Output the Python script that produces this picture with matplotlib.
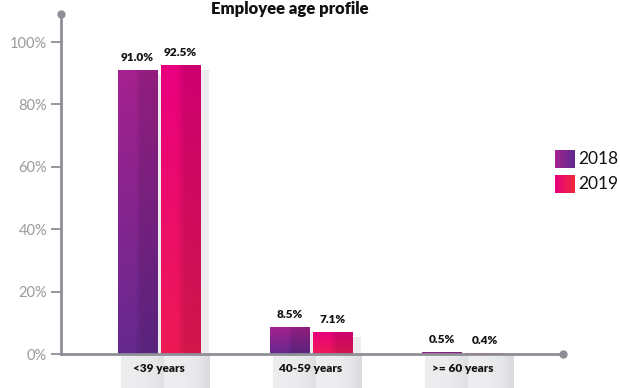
import numpy as np
import matplotlib.pyplot as plt
from matplotlib.colors import to_rgb
from matplotlib.patches import Polygon, Rectangle

plt.rcParams['font.family'] = ['Lato', 'DejaVu Sans']

# data
categories = ['<39 years', '40-59 years', '>= 60 years']
years = ['2018', '2019']
values_2018 = [91.0, 8.5, 0.5]
values_2019 = [92.5, 7.1, 0.4]
labels_2018 = ['91.0%', '8.5%', '0.5%']
labels_2019 = ['92.5%', '7.1%', '0.4%']
yticks = [0, 20, 40, 60, 80, 100]

# gradient colours: (top, bottom)
grad_2018 = ('#a5218f', '#65298e')
grad_2019 = ('#e9007f', '#ee1a55')
legend_2018 = ('#a3238f', '#5f2b8f')
legend_2019 = ('#e6007e', '#ee2a3a')

fig = plt.figure(figsize=(6.2, 3.88), dpi=100)
ax = fig.add_axes([61 / 620, 34 / 388, 502 / 620, 340 / 388])

ymax = 109
ax.set_ylim(0, ymax)
ax.set_xlim(-98 / 152, 404 / 152)

width = 40 / 152
off = 21.5 / 152
px_y = ymax / 340  # data units per pixel in y
px_x = 1 / 152


def gradient_img(top, bottom, n=64):
    t = np.array(to_rgb(top))
    b = np.array(to_rgb(bottom))
    v = np.linspace(0, 1, n)[:, None, None]
    col = t * (1 - v) + b * v
    h = np.linspace(0, 1, n)
    shade = 1 - 0.12 / (1 + np.exp(-(h - 0.5) * 30))
    return col * shade[None, :, None]


def shadow_img(n=32):
    # light gray, a bit darker towards the right edge
    h = np.linspace(0, 1, n)
    g = 0.93 - 0.07 * h ** 3
    return np.repeat(np.stack([g, g, g + 0.01], axis=-1)[None, :, :], 4, axis=0)


x = np.arange(len(categories))
for vals, labs, grad, sign in [(values_2018, labels_2018, grad_2018, -1),
                               (values_2019, labels_2019, grad_2019, 1)]:
    bars = ax.bar(x + sign * off, vals, width, color='none', edgecolor='none', zorder=3)
    for b, v, lab in zip(bars, vals, labs):
        x0 = b.get_x()
        x1 = x0 + b.get_width()
        im = ax.imshow(gradient_img(*grad), extent=[x0, x1, 0, v], origin='upper',
                       aspect='auto', zorder=3, interpolation='bilinear')
        im.set_clip_path(b)
        # right-side shadow
        top_s = max(v - 5 * px_y, 0)
        ax.add_patch(Rectangle((x1, 0), 8 * px_x, top_s, facecolor='#ececee',
                               edgecolor='none', zorder=2))
        # floor shadow
        sh = Polygon([(x0 + 3 * px_x, 0), (x1 + 9 * px_x, 0), (x1 + 9 * px_x, -34 * px_y),
                      (x0 + 28 * px_x, -34 * px_y), (x0 + 3 * px_x, -26 * px_y)],
                     closed=True, facecolor='none', edgecolor='none', clip_on=False,
                     transform=ax.transData)
        ax.add_patch(sh)
        sim = ax.imshow(shadow_img(), extent=[x0 + 3 * px_x, x1 + 9 * px_x, -34 * px_y, 0],
                        aspect='auto', zorder=1, interpolation='bilinear', clip_on=False)
        sim.set_clip_path(sh)
        ax.text(b.get_x() + b.get_width() / 2, v + 7 * px_y, lab, ha='center',
                va='bottom', fontsize=8.5, fontweight='heavy', color='#111111')

for xi, cat in zip(x, categories):
    ax.text(xi, -15 * px_y, cat, ha='center', va='center', fontsize=8.5,
            fontweight='heavy', color='#111111', zorder=4, clip_on=False)

ax.set_xlim(-98 / 152, 404 / 152)
ax.set_ylim(0, ymax)

# axes styling
axis_col = '#8e8e96'
for s in ['top', 'right']:
    ax.spines[s].set_visible(False)
for s in ['left', 'bottom']:
    ax.spines[s].set_color(axis_col)
    ax.spines[s].set_linewidth(2)
    ax.spines[s].set_zorder(5)
ax.set_yticks(yticks)
ax.set_yticklabels([f'{t}%' for t in yticks])
ax.tick_params(axis='y', length=7, width=1.3, color=axis_col, labelcolor='#9a9a9e',
               labelsize=10.5, pad=3)
ax.set_xticks([])
ax.plot([0], [1], 'o', transform=ax.transAxes, color=axis_col, ms=5, clip_on=False, zorder=6)
ax.plot([1], [0], 'o', transform=ax.transAxes, color=axis_col, ms=5, clip_on=False, zorder=6)

# title
fig.text(290 / 620, 1 - 9 / 388, 'Employee age profile', ha='center', va='center',
         fontsize=12, fontweight='heavy', color='#111111')

# legend with gradient squares
for i, (yr, grad) in enumerate(zip(years, [legend_2018, legend_2019])):
    top_px = 150 + i * 25
    lax = fig.add_axes([555 / 620, 1 - (top_px + 18) / 388, 20 / 620, 18 / 388])
    c0 = np.array(to_rgb(grad[0]))
    c1 = np.array(to_rgb(grad[1]))
    h = np.linspace(0, 1, 32)[None, :, None]
    img = np.repeat(c0 * (1 - h) + c1 * h, 8, axis=0)
    lax.imshow(img, aspect='auto', interpolation='bilinear')
    lax.axis('off')
    fig.text(578 / 620, 1 - (top_px + 9) / 388, yr, ha='left', va='center',
             fontsize=12.5, color='#111111')

fig.savefig('out.png', dpi=100)
